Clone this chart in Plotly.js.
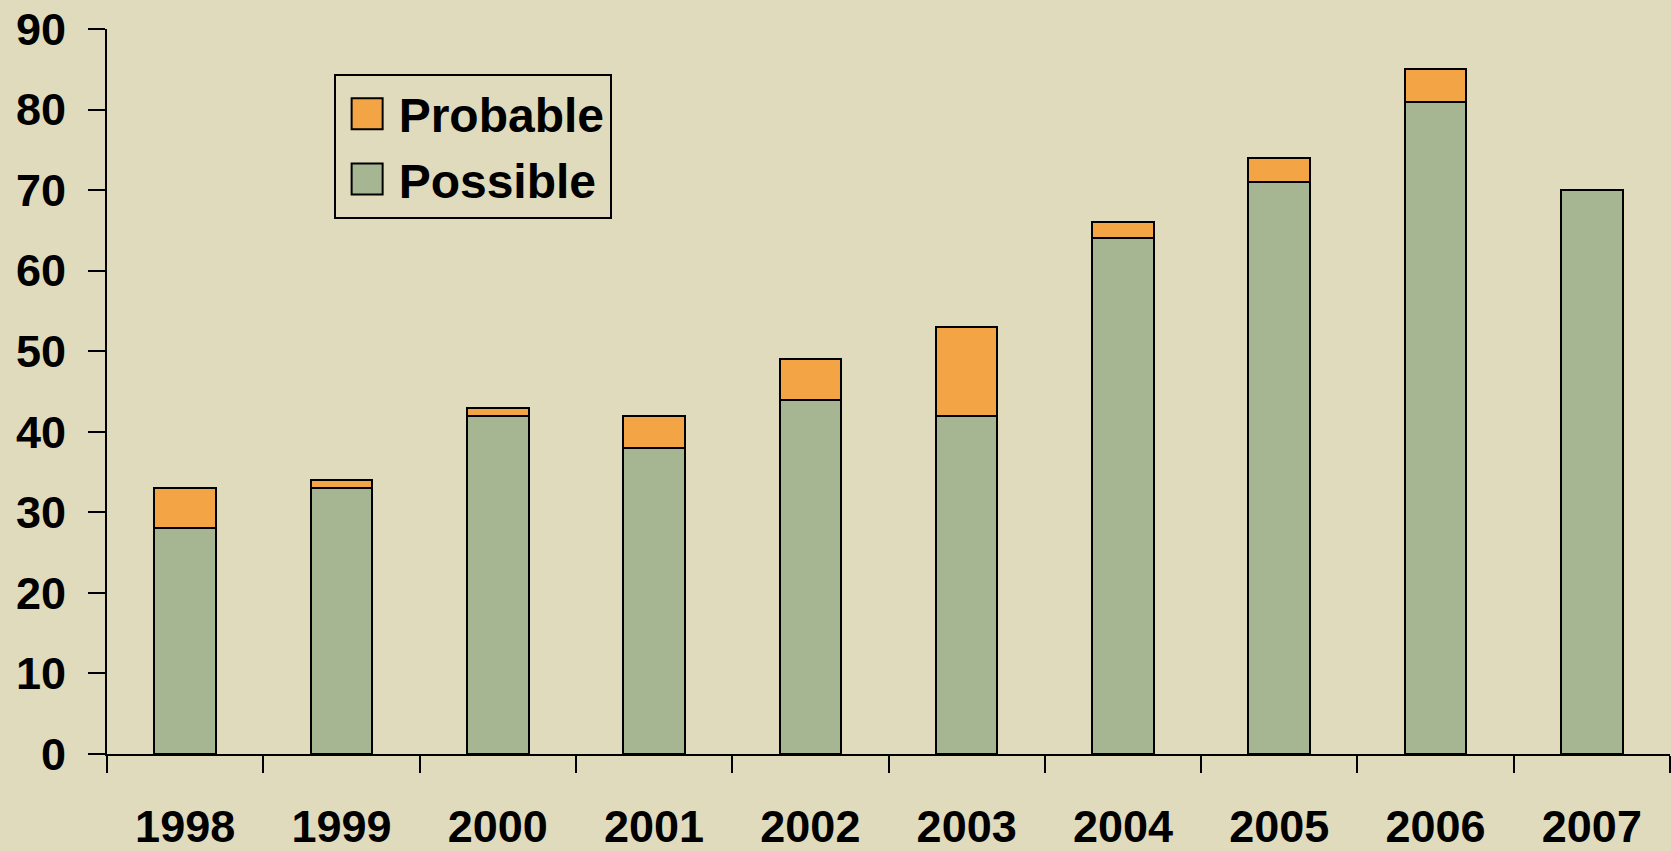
<!DOCTYPE html>
<html>
<head>
<meta charset="utf-8">
<script src="https://cdn.plot.ly/plotly-3.0.1.min.js"></script>
<style>
html,body{margin:0;padding:0;background:#e0dbbc;}
#chart{width:1671px;height:851px;}
</style>
</head>
<body>
<div id="chart"></div>
<script>
const years = ["1998","1999","2000","2001","2002","2003","2004","2005","2006","2007"];
const possible = [28, 33, 42, 38, 44, 42, 64, 71, 81, 70];
const probable = [5, 1, 1, 4, 5, 11, 2, 3, 4, 0];
const yTicks = [0,10,20,30,40,50,60,70,80,90];

const font = {family: "Liberation Sans, Arial, sans-serif", color: "#000"};

const traces = [
  {type: "bar", name: "Possible", x: years, y: possible, legendgroup: "a",
   marker: {color: "#a6b592", line: {color: "#000", width: 2}}},
  {type: "bar", name: "Probable", x: years, y: probable, legendgroup: "b",
   marker: {color: "#f3a546", line: {color: "#000", width: 2}}}
];

const layout = {
  width: 1671, height: 851,
  paper_bgcolor: "#e0dbbc", plot_bgcolor: "#e0dbbc",
  margin: {l: 107, r: 1, t: 29, b: 97},
  barmode: "stack", bargap: 0.606,
  showlegend: true,
  legend: {
    x: 0.145, y: 0.938, xanchor: "left", yanchor: "top",
    traceorder: "reversed", tracegroupgap: 24,
    bordercolor: "#000", borderwidth: 2, bgcolor: "rgba(0,0,0,0)",
    font: Object.assign({size: 48, weight: "bold"}, font),
    itemwidth: 53
  },
  xaxis: {
    type: "category", tickson: "boundaries",
    ticks: "outside", ticklen: 17, tickwidth: 2, tickcolor: "#000",
    showline: true, linecolor: "#000", linewidth: 2,
    showgrid: false, zeroline: false,
    tickfont: Object.assign({size: 45, weight: "bold"}, font),
    ticklabelstandoff: 32
  },
  yaxis: {
    range: [0, 90], tickvals: yTicks, ticktext: yTicks.map(String),
    ticks: "outside", ticklen: 17, tickwidth: 2, tickcolor: "#000",
    showline: true, linecolor: "#000", linewidth: 2,
    showgrid: false, zeroline: false,
    tickfont: Object.assign({size: 45, weight: "bold"}, font),
    ticklabelstandoff: 13
  }
};

Plotly.newPlot("chart", traces, layout, {displayModeBar: false, staticPlot: true}).then(function(){
  document.querySelectorAll(".legend .legendpoints path").forEach(function(p){
    p.setAttribute("d", "M15.5,15.5H-15.5V-15.5H15.5Z");
  });
});
</script>
</body>
</html>
